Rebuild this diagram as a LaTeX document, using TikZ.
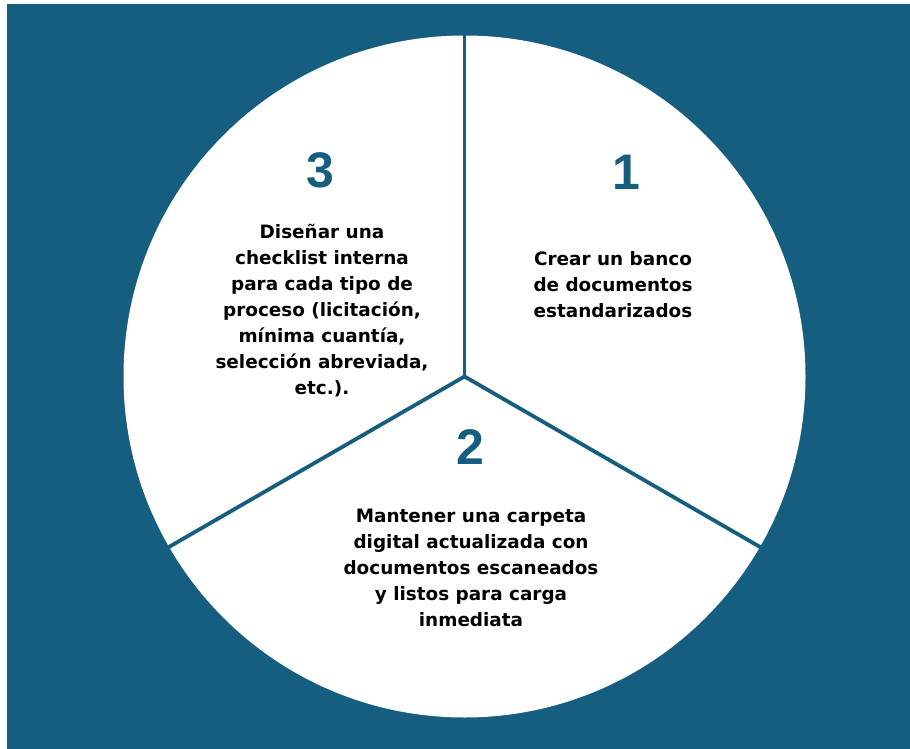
\documentclass[tikz,border=0pt]{standalone}
\usepackage{fontspec}
\setmainfont{DejaVu Sans}
\newfontfamily\numfont{Liberation Sans}
\definecolor{deepblue}{RGB}{21,94,127}
\begin{document}
\begin{tikzpicture}[x=1pt,y=-1pt,
  numtext/.style={text=deepblue,font=\numfont\bfseries\fontsize{50}{50}\selectfont,inner sep=0pt},
  bodytext/.style={align=center,font=\bfseries\fontsize{18.4}{26}\selectfont,inner sep=0pt},
  divider/.style={draw=deepblue,line width=3.8pt}]
\useasboundingbox (0,0) rectangle (910,749);
\fill[deepblue] (7,4) rectangle (910,749);
\coordinate (c) at (464.5,376.5);
\fill[white] (c) circle[radius=341];
\coordinate (tp) at (464.5,34);
\coordinate (ll) at (168,547.5);
\coordinate (lr) at (761,547.5);
\draw[divider] (c) -- (tp);
\draw[divider] (c) -- (ll);
\draw[divider] (c) -- (lr);
\node[numtext] (n3) at (320,170) {3};
\node[numtext] (n1) at (626,172) {1};
\node[numtext] (n2) at (470,447) {2};
\node[bodytext] (t3) at (322,311) {Diseñar una\\checklist interna\\para cada tipo de\\proceso (licitación,\\mínima cuantía,\\selección abreviada,\\etc.).};
\node[bodytext] (t1) at (613,285) {Crear un banco\\de documentos\\estandarizados};
\node[bodytext] (t2) at (471,568) {Mantener una carpeta\\digital actualizada con\\documentos escaneados\\y listos para carga\\inmediata};
\end{tikzpicture}
\end{document}
